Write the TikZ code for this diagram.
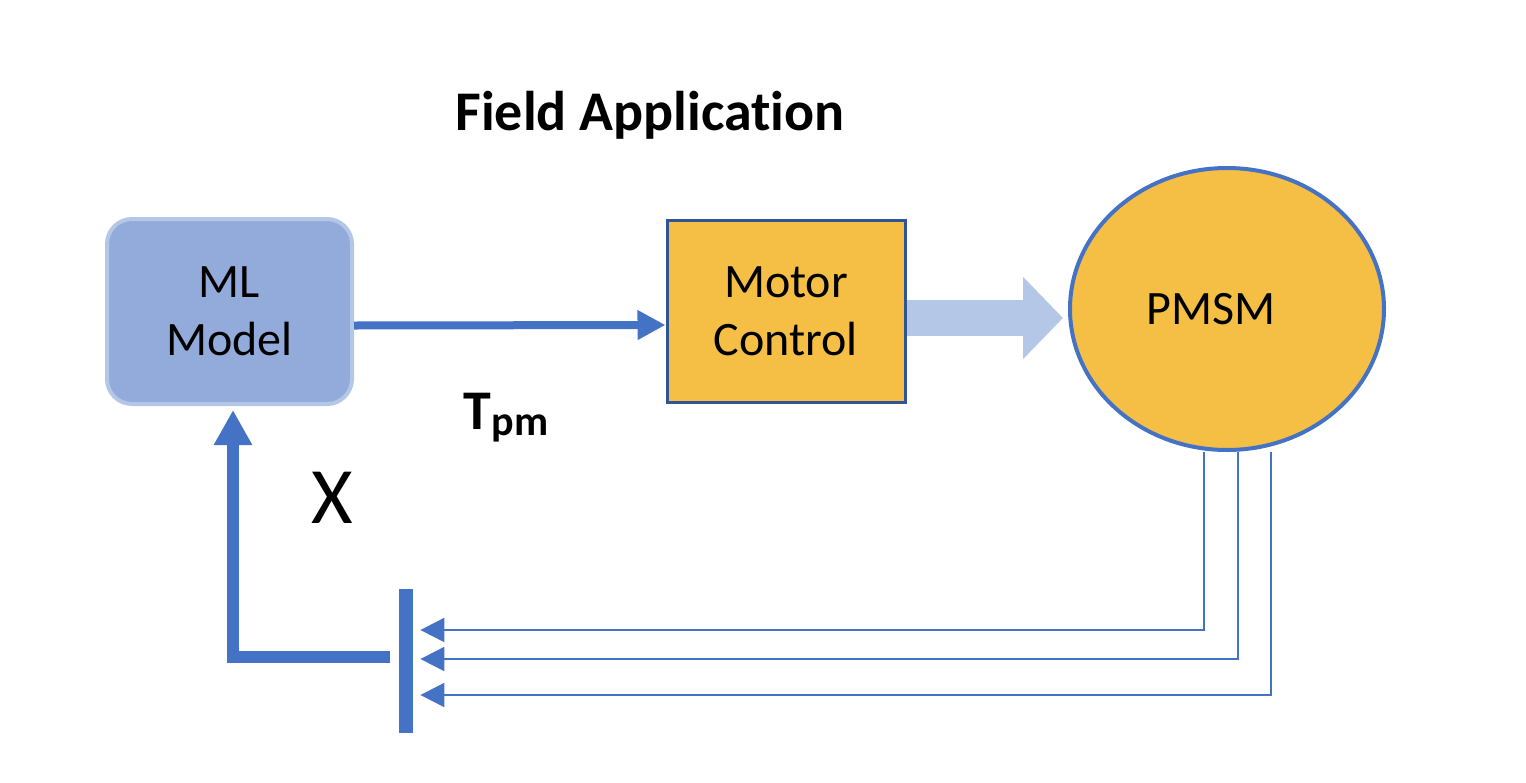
\documentclass[tikz,border=0pt]{standalone}
\usepackage{fontspec}
\setmainfont{Carlito}[Ligatures=NoCommon]
\usetikzlibrary{arrows.meta, positioning, shapes.geometric}
\definecolor{mlfill}{HTML}{93ABDA}
\definecolor{mlline}{HTML}{B4C7E7}
\definecolor{gold}{HTML}{F4BF44}
\definecolor{darkline}{HTML}{2F5597}
\definecolor{wireblue}{HTML}{4472C4}
\definecolor{paleblue}{HTML}{B4C7E7}

\begin{document}
\begin{tikzpicture}[
    x=0.5pt, y=-0.5pt,
    every node/.style={font=\fontsize{24}{29}\selectfont},
    mlbox/.style  ={draw=mlline, line width=2pt, fill=mlfill, rounded corners=12.5pt,
                    align=center, minimum width=122.5pt, minimum height=92.5pt},
    ctrlbox/.style={draw=darkline, line width=1.5pt, fill=gold, align=center,
                    minimum width=119pt, minimum height=91pt},
    motor/.style  ={draw=wireblue, line width=2pt, fill=gold, ellipse, inner sep=0pt,
                    minimum width=157pt, minimum height=141pt},
    bus/.style    ={fill=wireblue, inner sep=0pt, minimum width=7pt, minimum height=72pt},
    sig/.style    ={-{Triangle[length=14pt,width=14pt]}, line width=4pt, wireblue},
    power/.style  ={-{Triangle[length=20pt,width=40pt]}, line width=18pt, paleblue},
    meas/.style   ={-{Triangle[length=12pt,width=12pt]}, line width=1pt, wireblue,
                    shorten >=3.5pt},
    fb/.style     ={-{Triangle[length=17.5pt,width=18pt]}, line width=6pt, wireblue},
]
\useasboundingbox (0,0) rectangle (1526,782);

% --- top row: model, controller, machine ---
\node[font=\fontsize{28}{32}\bfseries\selectfont] (title) at (650,115) {Field Application};
\node[mlbox]   (ml) at (229.5,311.5) {ML\\Model};
\node[ctrlbox] (mc) at (786,311) {Motor\\Control};
\node[motor, label={[xshift=-8pt]center:PMSM}] (pm) at (1227,309) {};
\draw[sig]   ([yshift=-7pt]ml.east) -- ([yshift=-7pt]mc.west);
\draw[power] ([yshift=-3.5pt]mc.east) -- ([yshift=-3.5pt]mc.east -| pm.west)
             [shorten >=2.5pt];
\node[font=\fontsize{28}{32}\bfseries\selectfont] (tpm) at (506,418)
     {T\raisebox{-3pt}{\fontsize{21}{21}\bfseries\selectfont pm}};

% --- measured signals back to the model ---
\node[bus] (bus) at (406,661) {};
\draw[meas] ([xshift=-11.5pt]pm.south) |- ([yshift=15.5pt]bus.east);
\draw[meas] ([xshift=5.5pt]pm.south)   |- ([yshift=1pt]bus.east);
\draw[meas] ([xshift=22pt]pm.south)    |- ([yshift=-17pt]bus.east);
\draw[fb, shorten <=4.5pt, shorten >=2pt] ([yshift=2pt]bus.west) -| ([xshift=1.75pt]ml.south);
\node[font=\fontsize{40}{44}\selectfont] (x) at (332,498) {X};
\end{tikzpicture}
\end{document}
